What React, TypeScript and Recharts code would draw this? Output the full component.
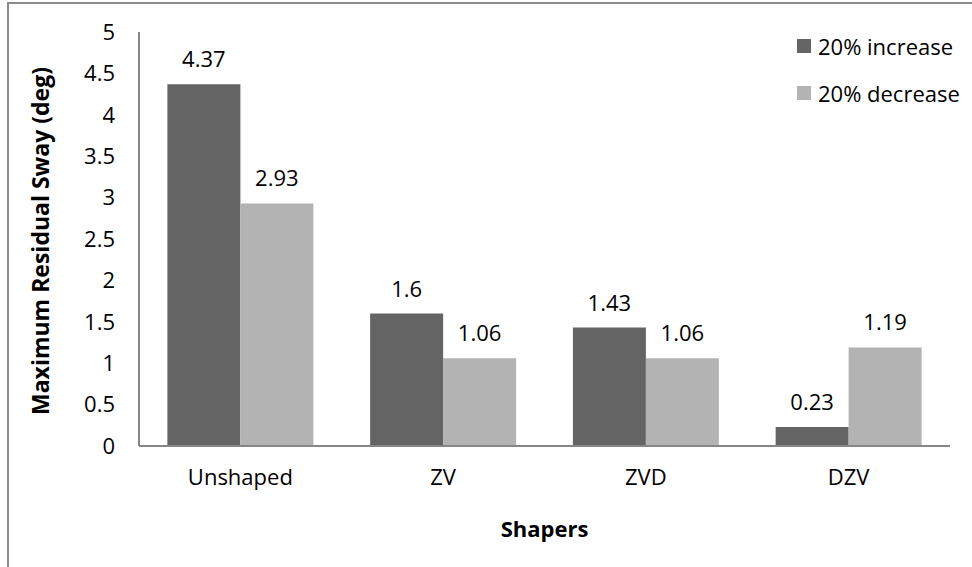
import React from 'react';
import { BarChart, Bar, XAxis, YAxis, LabelList, Legend } from 'recharts';

const shapers = ['Unshaped', 'ZV', 'ZVD', 'DZV'];
const increase = [4.37, 1.6, 1.43, 0.23];
const decrease = [2.93, 1.06, 1.06, 1.19];
const yTicks = [0, 0.5, 1, 1.5, 2, 2.5, 3, 3.5, 4, 4.5, 5];

const seriesNames = ['20% increase', '20% decrease'];
const seriesColors = ['#646464', '#b3b3b3'];

const FONT = '"Open Sans", sans-serif';

const data = shapers.map((name, i) => ({
  name,
  inc: increase[i],
  dec: decrease[i],
}));

const LegendBox = () => (
  <div style={{ fontFamily: FONT, fontSize: 22, color: '#000' }}>
    {seriesNames.map((n, i) => (
      <div key={n} style={{ display: 'flex', alignItems: 'center', height: 47 }}>
        <span style={{ width: 14, height: 14, background: seriesColors[i], marginRight: 7, display: 'inline-block' }} />
        {n}
      </div>
    ))}
  </div>
);

const YTitle = ({ viewBox }: any) => {
  const cx = 40;
  const cy = viewBox.y + viewBox.height / 2 + 2;
  return (
    <text
      x={cx}
      y={cy}
      transform={`rotate(-90, ${cx}, ${cy})`}
      textAnchor="middle"
      dominantBaseline="central"
      style={{ fontFamily: FONT, fontSize: 23, fontWeight: 700, fill: '#000' }}
    >
      Maximum Residual Sway (deg)
    </text>
  );
};

const App = () => {
  const tickStyle = { fontFamily: FONT, fontSize: 22, fill: '#000' };
  return (
    <div style={{ position: 'absolute', left: 0, top: 0, width: 972, height: 567, overflow: 'hidden', background: '#fff' }}>
      <div style={{ position: 'absolute', left: 7, top: 2, width: 1000, height: 600, border: '2px solid #8c8c8c' }} />
      <div style={{ position: 'absolute', left: 0, top: 0 }}>
        <BarChart
          width={972}
          height={567}
          data={data}
          margin={{ top: 32, right: 22, left: 0, bottom: 0 }}
          barCategoryGap="14%"
          barGap={0}
        >
          <XAxis
            dataKey="name"
            height={121}
            tickLine={false}
            tickSize={0}
            tickMargin={23}
            stroke="#868686"
            strokeWidth={2}
            tick={tickStyle}
            label={{ value: 'Shapers', position: 'insideBottom', offset: 30, style: { fontFamily: FONT, fontSize: 22, fontWeight: 700, fill: '#000' } }}
          />
          <YAxis
            width={139}
            domain={[0, 5]}
            ticks={yTicks}
            interval={0}
            tickLine={false}
            tickSize={0}
            tickMargin={24}
            stroke="#868686"
            strokeWidth={2}
            tick={tickStyle}
            label={<YTitle />}
          />
          <Legend
            layout="vertical"
            align="center"
            verticalAlign="middle"
            wrapperStyle={{ left: 797, top: 22, width: 180 }}
            content={<LegendBox />}
          />
          <Bar dataKey="inc" name={seriesNames[0]} fill={seriesColors[0]} isAnimationActive={false}>
            <LabelList dataKey="inc" position="top" offset={17} style={tickStyle} />
          </Bar>
          <Bar dataKey="dec" name={seriesNames[1]} fill={seriesColors[1]} isAnimationActive={false}>
            <LabelList dataKey="dec" position="top" offset={17} style={tickStyle} />
          </Bar>
        </BarChart>
      </div>
    </div>
  );
};

export default App;
